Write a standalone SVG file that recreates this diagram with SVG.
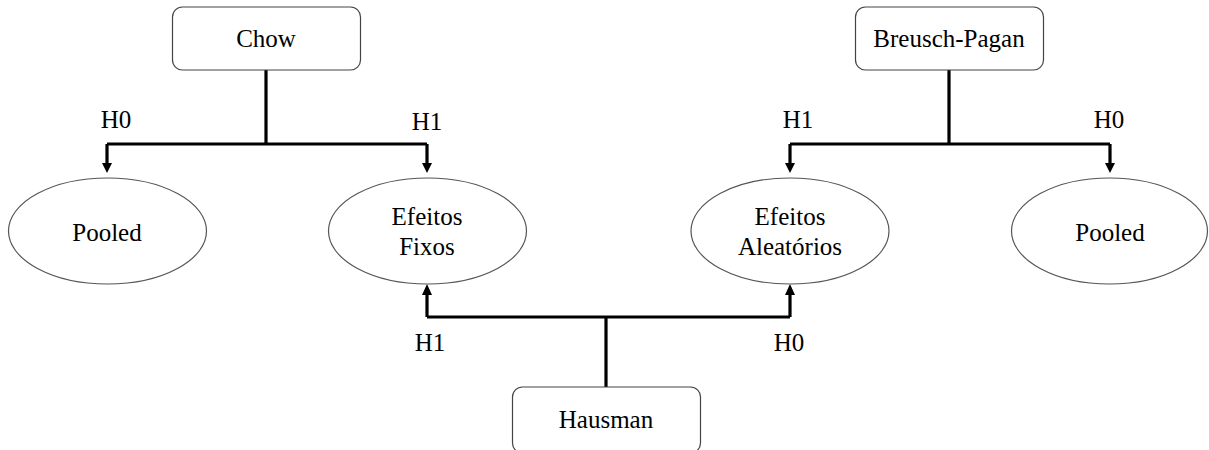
<svg xmlns="http://www.w3.org/2000/svg" width="1209" height="450" viewBox="0 0 1209 450">
<style>
.box{fill:#fff;stroke:#444;stroke-width:1.2}
.ell{fill:#fff;stroke:#555;stroke-width:1.2}
.t{font-family:"Liberation Serif","Times New Roman",serif;font-size:25px;fill:#000;text-anchor:middle}
.c{fill:none;stroke:#000;stroke-width:3.2;stroke-linejoin:miter}
.ah{fill:#000}
</style>
<rect width="1209" height="450" fill="#fff"/>
<g id="connectors">
<path class="c" d="M266 70 V144 M107 144 H427 M107 144 V164 M427 144 V164"/>
<polygon class="ah" points="102,163 112,163 107,173"/>
<polygon class="ah" points="422,163 432,163 427,173"/>
<path class="c" d="M949 70 V144 M790 144 H1110 M790 144 V164 M1110 144 V164"/>
<polygon class="ah" points="785,163 795,163 790,173"/>
<polygon class="ah" points="1105,163 1115,163 1110,173"/>
<path class="c" d="M606 387 V317 M427 317 H790 M427 317 V294 M790 317 V294"/>
<polygon class="ah" points="422,295 432,295 427,284"/>
<polygon class="ah" points="785,295 795,295 790,284"/>
<text class="t" x="116" y="128">H0</text>
<text class="t" x="427" y="130">H1</text>
<text class="t" x="798" y="128">H1</text>
<text class="t" x="1109" y="128">H0</text>
<text class="t" x="430" y="351">H1</text>
<text class="t" x="789" y="351">H0</text>
</g>
<g id="chow">
<rect class="box" x="172.5" y="7" width="188" height="63" rx="10"/>
<text class="t" x="266" y="47">Chow</text>
</g>
<g id="breusch-pagan">
<rect class="box" x="855.5" y="7" width="188" height="63" rx="10"/>
<text class="t" x="949" y="47">Breusch-Pagan</text>
</g>
<g id="hausman">
<rect class="box" x="512.5" y="387" width="188" height="66" rx="10"/>
<text class="t" x="606" y="428">Hausman</text>
</g>
<g id="pooled-left">
<ellipse class="ell" cx="107.5" cy="231" rx="99" ry="53"/>
<text class="t" x="107" y="241">Pooled</text>
</g>
<g id="efeitos-fixos">
<ellipse class="ell" cx="427.5" cy="231" rx="99" ry="53"/>
<text class="t" x="427" y="225">Efeitos</text>
<text class="t" x="427" y="255">Fixos</text>
</g>
<g id="efeitos-aleatorios">
<ellipse class="ell" cx="790" cy="231" rx="99" ry="53"/>
<text class="t" x="790" y="225">Efeitos</text>
<text class="t" x="790" y="255">Aleatórios</text>
</g>
<g id="pooled-right">
<ellipse class="ell" cx="1109.5" cy="231" rx="98" ry="53"/>
<text class="t" x="1110" y="241">Pooled</text>
</g>
</svg>
